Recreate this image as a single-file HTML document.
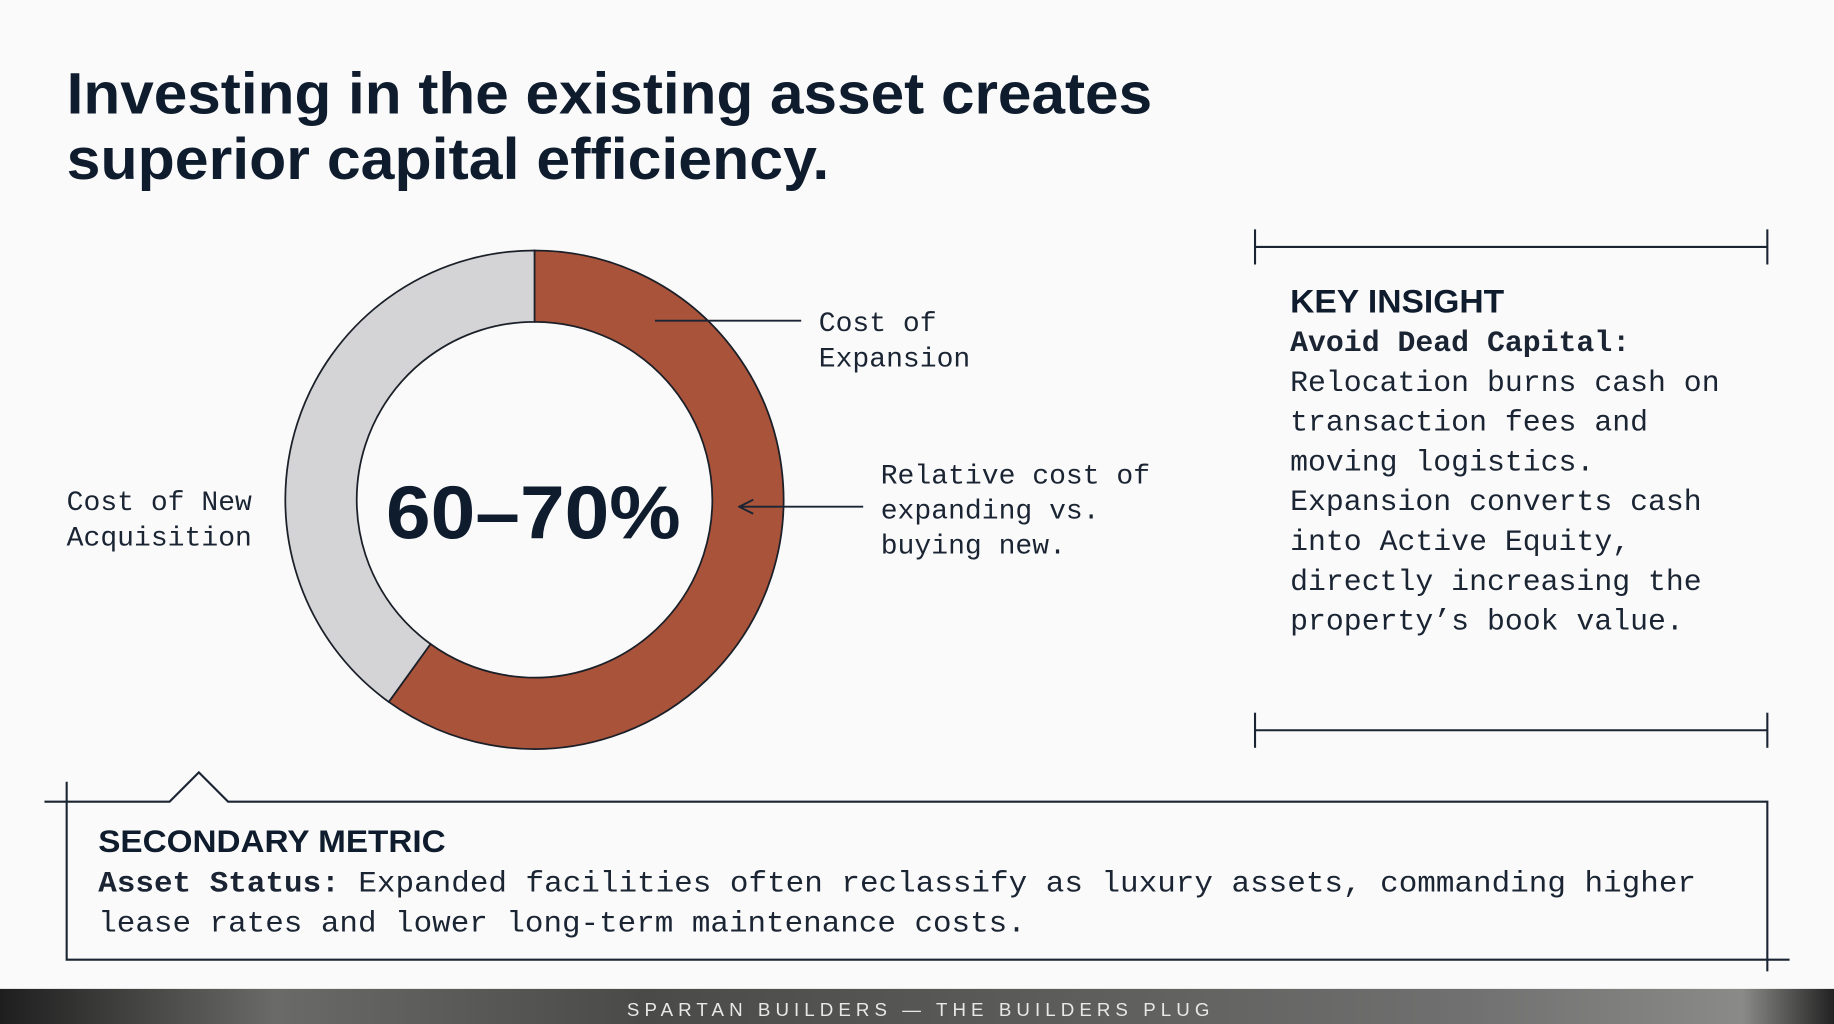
<!DOCTYPE html>
<html><head><meta charset="utf-8"><style>
html,body{margin:0;padding:0;background:#fafafa;}
svg{display:block}
</style></head><body>
<svg width="1834" height="1024" viewBox="0 0 1568 875" preserveAspectRatio="none" xmlns="http://www.w3.org/2000/svg">
<defs>
<linearGradient id="ft" x1="0" x2="1" y1="0" y2="0">
<stop offset="0" stop-color="#1e1e1e"/><stop offset="0.15" stop-color="#6a6a68"/><stop offset="0.35" stop-color="#4a4a48"/><stop offset="0.55" stop-color="#5a5a58"/><stop offset="0.8" stop-color="#707070"/><stop offset="0.95" stop-color="#8a8a88"/><stop offset="1" stop-color="#222"/>
</linearGradient>
<marker id="ah" markerWidth="14" markerHeight="14" refX="13" refY="7" orient="auto" markerUnits="userSpaceOnUse"><path d="M1,1 L13,7 L1,13" fill="none" stroke="#1a2433" stroke-width="1.6"/></marker>
</defs>
<rect width="1568" height="875" fill="#fafafa"/>
<g fill="#0f1c2e" font-family="Liberation Sans, sans-serif" font-weight="bold">
<text x="57" y="97" font-size="50" textLength="928" lengthAdjust="spacingAndGlyphs">Investing in the existing asset creates</text>
<text x="57" y="153" font-size="50" textLength="652" lengthAdjust="spacingAndGlyphs">superior capital efficiency.</text>
</g>
<!-- donut -->
<g stroke="#1a1f28" stroke-width="1.5">
<path d="M457,214 A213,213 0 1 1 332.4,599.8 L368.1,550.3 A152,152 0 1 0 457,275 Z" fill="#a9533a"/>
<path d="M332.4,599.8 A213,213 0 0 1 457,214 L457,275 A152,152 0 0 0 368.1,550.3 Z" fill="#d4d4d7"/>
</g>
<text x="456" y="460" font-family="Liberation Sans, sans-serif" font-weight="bold" font-size="64" fill="#0f1c2e" text-anchor="middle" textLength="252" lengthAdjust="spacingAndGlyphs">60–70%</text>
<g stroke="#1a2433" stroke-width="1.6">
<line x1="560" y1="274" x2="685" y2="274"/>
<line x1="738" y1="433" x2="632" y2="433" marker-end="url(#ah)"/>
</g>
<g font-family="Liberation Mono, monospace" font-size="24" fill="#1a2433">
<text x="700" y="283">Cost of</text>
<text x="700" y="313">Expansion</text>
<text x="753" y="413">Relative cost of</text>
<text x="753" y="443">expanding vs.</text>
<text x="753" y="473">buying new.</text>
<text x="57" y="436">Cost of New</text>
<text x="57" y="466">Acquisition</text>
</g>
<!-- brackets -->
<g stroke="#1a2433" stroke-width="1.8">
<line x1="1073" y1="211" x2="1511" y2="211"/><line x1="1073" y1="196" x2="1073" y2="226"/><line x1="1511" y1="196" x2="1511" y2="226"/>
<line x1="1073" y1="624" x2="1511" y2="624"/><line x1="1073" y1="609" x2="1073" y2="639"/><line x1="1511" y1="609" x2="1511" y2="639"/>
</g>
<text x="1103" y="267" font-family="Liberation Sans, sans-serif" font-weight="bold" font-size="28" fill="#0f1c2e" textLength="183" lengthAdjust="spacingAndGlyphs">KEY INSIGHT</text>
<g font-family="Liberation Mono, monospace" font-size="25.5" fill="#1a2433">
<text x="1103" y="300" font-weight="bold">Avoid Dead Capital:</text>
<text x="1103" y="334">Relocation burns cash on</text>
<text x="1103" y="368">transaction fees and</text>
<text x="1103" y="402">moving logistics.</text>
<text x="1103" y="436">Expansion converts cash</text>
<text x="1103" y="470">into Active Equity,</text>
<text x="1103" y="504">directly increasing the</text>
<text x="1103" y="538">property’s book value.</text>
</g>
<!-- secondary box -->
<g stroke="#1a2433" stroke-width="1.8" fill="none">
<path d="M38,685 L145,685 L170,660 L195,685 L1511,685 L1511,830"/>
<path d="M57,668 L57,820 L1530,820"/>
</g>
<text x="84" y="728" font-family="Liberation Sans, sans-serif" font-weight="bold" font-size="27" fill="#0f1c2e" textLength="297" lengthAdjust="spacingAndGlyphs">SECONDARY METRIC</text>
<g font-family="Liberation Mono, monospace" font-size="25.5" fill="#1a2433">
<text x="84" y="762" textLength="1366" lengthAdjust="spacingAndGlyphs"><tspan font-weight="bold">Asset Status:</tspan> Expanded facilities often reclassify as luxury assets, commanding higher</text>
<text x="84" y="796" textLength="793" lengthAdjust="spacingAndGlyphs">lease rates and lower long-term maintenance costs.</text>
</g>
<!-- footer -->
<rect x="0" y="845" width="1568" height="30" fill="url(#ft)"/>
<text x="536" y="868" font-family="Liberation Sans, sans-serif" font-size="16" fill="#e8e8e8" textLength="498" lengthAdjust="spacing">SPARTAN BUILDERS — THE BUILDERS PLUG</text>
</svg>
</body></html>
